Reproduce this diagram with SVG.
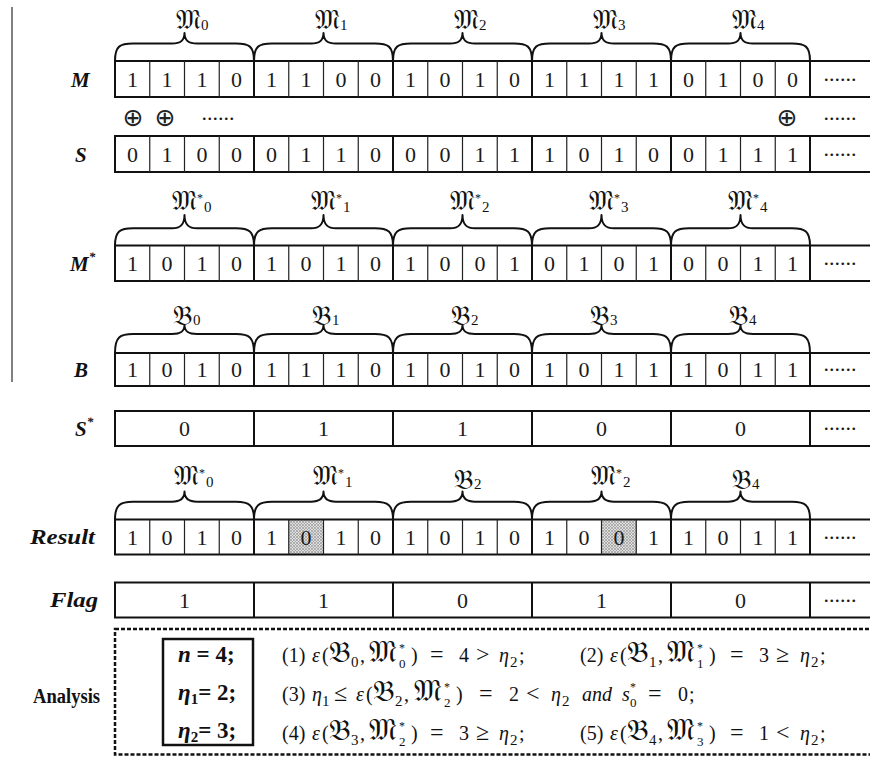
<svg xmlns="http://www.w3.org/2000/svg" width="870" height="759" viewBox="0 0 870 759">
<defs>
<pattern id="hatch" width="3" height="3" patternUnits="userSpaceOnUse">
<rect width="3" height="3" fill="#dedede"/>
<path d="M0,0 L3,3 M3,0 L0,3" stroke="#999" stroke-width="0.7"/>
</pattern>
<style>
.box{fill:none;stroke:#111;stroke-width:2}
.thin{stroke:#222;stroke-width:1.2}
.thick{stroke:#111;stroke-width:2}
.brace{fill:none;stroke:#111;stroke-width:2;stroke-linejoin:round}
.d{font-family:"Liberation Serif",serif;font-size:22px;text-anchor:middle;fill:#1a1a1a}
.dots{font-family:"Liberation Serif",serif;font-size:22px;text-anchor:middle;fill:#1a1a1a}
.lbl{font-family:"Liberation Serif",serif;font-weight:bold;font-style:italic;font-size:21px;fill:#111}
.an{font-family:"Liberation Serif",serif;font-weight:bold;font-size:20px;fill:#111}
.fk{font-family:"DejaVu Serif","DejaVu Sans","Noto Sans",serif;font-size:27px;fill:#111}
.fa{font-family:"DejaVu Serif","DejaVu Sans","Noto Sans",serif;font-size:30px}
.sub{font-family:"Liberation Serif",serif;font-size:15px}
.s2{font-family:"Liberation Serif",serif;font-size:13px}
.sup{font-family:"Liberation Serif",serif;font-size:12px}
.m{font-family:"Liberation Serif",serif;font-size:20px;fill:#111}
.o{font-size:24px}
.i{font-style:italic}
.ib{font-family:"Liberation Serif",serif;font-size:23px;font-weight:bold;fill:#111}
.op{font-family:"DejaVu Sans",sans-serif;font-size:25px;text-anchor:middle;fill:#222}
</style>
</defs>
<line x1="12" y1="7" x2="12" y2="382" stroke="#808080" stroke-width="2"/>

<g id="row-M">
<text class="lbl" x="71" y="87">M</text>
<rect class="box" x="115" y="61" width="757" height="36"/>
<path class="thin" d="M149.75,61V97M184.5,61V97M219.25,61V97M288.75,61V97M323.5,61V97M358.25,61V97M427.75,61V97M462.5,61V97M497.25,61V97M566.75,61V97M601.5,61V97M636.25,61V97M705.75,61V97M740.5,61V97M775.25,61V97"/>
<path class="thick" d="M254,61V97M393,61V97M532,61V97M671,61V97M810,61V97"/>
<text class="d" x="132.4 167.1 201.9 236.6 271.4 306.1 340.9 375.6 410.4 445.1 479.9 514.6 549.4 584.1 618.9 653.6 688.4 723.1 757.9 792.6" y="86.5">11101100101011110100</text>
<text class="dots" x="840" y="81">......</text>
<path class="brace" d="M115,61C115,46 120,43.5 133,43.5L172,43.5C180,43.5 184.5,41 184.5,33C184.5,41 189,43.5 197,43.5L236,43.5C249,43.5 254,46 254,61M254,61C254,46 259,43.5 272,43.5L311,43.5C319,43.5 323.5,41 323.5,33C323.5,41 328,43.5 336,43.5L375,43.5C388,43.5 393,46 393,61M393,61C393,46 398,43.5 411,43.5L450,43.5C458,43.5 462.5,41 462.5,33C462.5,41 467,43.5 475,43.5L514,43.5C527,43.5 532,46 532,61M532,61C532,46 537,43.5 550,43.5L589,43.5C597,43.5 601.5,41 601.5,33C601.5,41 606,43.5 614,43.5L653,43.5C666,43.5 671,46 671,61M671,61C671,46 676,43.5 689,43.5L728,43.5C736,43.5 740.5,41 740.5,33C740.5,41 745,43.5 753,43.5L792,43.5C805,43.5 810,46 810,61"/>
<text class="fk" x="176" y="29">𝔐<tspan class="sub" dy="1">0</tspan></text>
<text class="fk" x="315" y="29">𝔐<tspan class="sub" dy="1">1</tspan></text>
<text class="fk" x="454" y="29">𝔐<tspan class="sub" dy="1">2</tspan></text>
<text class="fk" x="593" y="29">𝔐<tspan class="sub" dy="1">3</tspan></text>
<text class="fk" x="732" y="29">𝔐<tspan class="sub" dy="1">4</tspan></text>
</g>

<g id="xor-ops">
<text class="op" x="133" y="126">⊕</text>
<text class="op" x="165" y="126">⊕</text>
<text class="dots" x="218" y="120">......</text>
<text class="op" x="787" y="126">⊕</text>
<text class="dots" x="840" y="120">......</text>
</g>

<g id="row-S">
<text class="lbl" x="75" y="162">S</text>
<rect class="box" x="115" y="136" width="757" height="36"/>
<path class="thin" d="M149.75,136V172M184.5,136V172M219.25,136V172M288.75,136V172M323.5,136V172M358.25,136V172M427.75,136V172M462.5,136V172M497.25,136V172M566.75,136V172M601.5,136V172M636.25,136V172M705.75,136V172M740.5,136V172M775.25,136V172"/>
<path class="thick" d="M254,136V172M393,136V172M532,136V172M671,136V172M810,136V172"/>
<text class="d" x="132.4 167.1 201.9 236.6 271.4 306.1 340.9 375.6 410.4 445.1 479.9 514.6 549.4 584.1 618.9 653.6 688.4 723.1 757.9 792.6" y="161.5">01000110001110100111</text>
<text class="dots" x="840" y="156">......</text>
</g>

<g id="row-Mstar">
<text class="lbl" x="70" y="271">M<tspan font-size="13" dy="-10">*</tspan></text>
<rect class="box" x="115" y="245.5" width="757" height="35.5"/>
<path class="thin" d="M149.75,245.5V281M184.5,245.5V281M219.25,245.5V281M288.75,245.5V281M323.5,245.5V281M358.25,245.5V281M427.75,245.5V281M462.5,245.5V281M497.25,245.5V281M566.75,245.5V281M601.5,245.5V281M636.25,245.5V281M705.75,245.5V281M740.5,245.5V281M775.25,245.5V281"/>
<path class="thick" d="M254,245.5V281M393,245.5V281M532,245.5V281M671,245.5V281M810,245.5V281"/>
<text class="d" x="132.4 167.1 201.9 236.6 271.4 306.1 340.9 375.6 410.4 445.1 479.9 514.6 549.4 584.1 618.9 653.6 688.4 723.1 757.9 792.6" y="270.5">10101010100101010011</text>
<text class="dots" x="840" y="265">......</text>
<path class="brace" d="M115,245.5C115,231 120,228.3 133,228.3L172,228.3C180,228.3 184.5,225 184.5,215C184.5,225 189,228.3 197,228.3L236,228.3C249,228.3 254,231 254,245.5M254,245.5C254,231 259,228.3 272,228.3L311,228.3C319,228.3 323.5,225 323.5,215C323.5,225 328,228.3 336,228.3L375,228.3C388,228.3 393,231 393,245.5M393,245.5C393,231 398,228.3 411,228.3L450,228.3C458,228.3 462.5,225 462.5,215C462.5,225 467,228.3 475,228.3L514,228.3C527,228.3 532,231 532,245.5M532,245.5C532,231 537,228.3 550,228.3L589,228.3C597,228.3 601.5,225 601.5,215C601.5,225 606,228.3 614,228.3L653,228.3C666,228.3 671,231 671,245.5M671,245.5C671,231 676,228.3 689,228.3L728,228.3C736,228.3 740.5,225 740.5,215C740.5,225 745,228.3 753,228.3L792,228.3C805,228.3 810,231 810,245.5"/>
<text class="fk" x="172" y="210">𝔐<tspan class="sup" dy="-8">*</tspan><tspan class="sub" dx="1" dy="10">0</tspan></text>
<text class="fk" x="311" y="210">𝔐<tspan class="sup" dy="-8">*</tspan><tspan class="sub" dx="1" dy="10">1</tspan></text>
<text class="fk" x="450" y="210">𝔐<tspan class="sup" dy="-8">*</tspan><tspan class="sub" dx="1" dy="10">2</tspan></text>
<text class="fk" x="589" y="210">𝔐<tspan class="sup" dy="-8">*</tspan><tspan class="sub" dx="1" dy="10">3</tspan></text>
<text class="fk" x="728" y="210">𝔐<tspan class="sup" dy="-8">*</tspan><tspan class="sub" dx="1" dy="10">4</tspan></text>
</g>

<g id="row-B">
<text class="lbl" x="74" y="377">B</text>
<rect class="box" x="115" y="353" width="757" height="33"/>
<path class="thin" d="M149.75,353V386M184.5,353V386M219.25,353V386M288.75,353V386M323.5,353V386M358.25,353V386M427.75,353V386M462.5,353V386M497.25,353V386M566.75,353V386M601.5,353V386M636.25,353V386M705.75,353V386M740.5,353V386M775.25,353V386"/>
<path class="thick" d="M254,353V386M393,353V386M532,353V386M671,353V386M810,353V386"/>
<text class="d" x="132.4 167.1 201.9 236.6 271.4 306.1 340.9 375.6 410.4 445.1 479.9 514.6 549.4 584.1 618.9 653.6 688.4 723.1 757.9 792.6" y="377">10101110101010111011</text>
<text class="dots" x="840" y="371">......</text>
<path class="brace" d="M115,353C115,337 120,334 133,334L172,334C180,334 184.5,332 184.5,325C184.5,332 189,334 197,334L236,334C249,334 254,337 254,353M254,353C254,337 259,334 272,334L311,334C319,334 323.5,332 323.5,325C323.5,332 328,334 336,334L375,334C388,334 393,337 393,353M393,353C393,337 398,334 411,334L450,334C458,334 462.5,332 462.5,325C462.5,332 467,334 475,334L514,334C527,334 532,337 532,353M532,353C532,337 537,334 550,334L589,334C597,334 601.5,332 601.5,325C601.5,332 606,334 614,334L653,334C666,334 671,337 671,353M671,353C671,337 676,334 689,334L728,334C736,334 740.5,332 740.5,325C740.5,332 745,334 753,334L792,334C805,334 810,337 810,353"/>
<text class="fk" x="173" y="325">𝔅<tspan class="sub" font-size="13">0</tspan></text>
<text class="fk" x="312" y="325">𝔅<tspan class="sub">1</tspan></text>
<text class="fk" x="451" y="325">𝔅<tspan class="sub" font-size="13">2</tspan></text>
<text class="fk" x="590" y="325">𝔅<tspan class="sub" font-size="13">3</tspan></text>
<text class="fk" x="729" y="325">𝔅<tspan class="sub" font-size="13">4</tspan></text>
</g>

<g id="row-Sstar">
<text class="lbl" x="75" y="436">S<tspan font-size="13" dy="-10">*</tspan></text>
<rect class="box" x="115" y="411" width="757" height="35"/>
<path class="thick" d="M254,411V446M393,411V446M532,411V446M671,411V446M810,411V446"/>
<text class="d" x="184.5 323.5 462.5 601.5 740.5" y="436">01100</text>
<text class="dots" x="840" y="430">......</text>
</g>

<g id="row-Result">
<text class="lbl" x="30" y="544" font-size="23" textLength="65" lengthAdjust="spacingAndGlyphs">Result</text>
<rect x="288.75" y="519.5" width="34.75" height="35" fill="url(#hatch)"/>
<rect x="601.5" y="519.5" width="34.75" height="35" fill="url(#hatch)"/>
<rect class="box" x="115" y="519.5" width="757" height="35"/>
<path class="thin" d="M149.75,519.5V554.5M184.5,519.5V554.5M219.25,519.5V554.5M288.75,519.5V554.5M323.5,519.5V554.5M358.25,519.5V554.5M427.75,519.5V554.5M462.5,519.5V554.5M497.25,519.5V554.5M566.75,519.5V554.5M601.5,519.5V554.5M636.25,519.5V554.5M705.75,519.5V554.5M740.5,519.5V554.5M775.25,519.5V554.5"/>
<path class="thick" d="M254,519.5V554.5M393,519.5V554.5M532,519.5V554.5M671,519.5V554.5M810,519.5V554.5"/>
<text class="d" x="132.4 167.1 201.9 236.6 271.4 306.1 340.9 375.6 410.4 445.1 479.9 514.6 549.4 584.1 618.9 653.6 688.4 723.1 757.9 792.6" y="544.5">10101010101010011011</text>
<text class="dots" x="840" y="539">......</text>
<path class="brace" d="M115,519.5C115,505 120,501.7 133,501.7L172,501.7C180,501.7 184.5,499 184.5,491.5C184.5,499 189,501.7 197,501.7L236,501.7C249,501.7 254,505 254,519.5M254,519.5C254,505 259,501.7 272,501.7L311,501.7C319,501.7 323.5,499 323.5,491.5C323.5,499 328,501.7 336,501.7L375,501.7C388,501.7 393,505 393,519.5M393,519.5C393,505 398,501.7 411,501.7L450,501.7C458,501.7 462.5,499 462.5,491.5C462.5,499 467,501.7 475,501.7L514,501.7C527,501.7 532,505 532,519.5M532,519.5C532,505 537,501.7 550,501.7L589,501.7C597,501.7 601.5,499 601.5,491.5C601.5,499 606,501.7 614,501.7L653,501.7C666,501.7 671,505 671,519.5M671,519.5C671,505 676,501.7 689,501.7L728,501.7C736,501.7 740.5,499 740.5,491.5C740.5,499 745,501.7 753,501.7L792,501.7C805,501.7 810,505 810,519.5"/>
<text class="fk" x="174" y="485">𝔐<tspan class="sup" dy="-8">*</tspan><tspan class="sub" dx="1" dy="10">0</tspan></text>
<text class="fk" x="313" y="485">𝔐<tspan class="sup" dy="-8">*</tspan><tspan class="sub" dx="1" dy="10">1</tspan></text>
<text class="fk" x="454" y="489">𝔅<tspan class="sub">2</tspan></text>
<text class="fk" x="591" y="485">𝔐<tspan class="sup" dy="-8">*</tspan><tspan class="sub" dx="1" dy="10">2</tspan></text>
<text class="fk" x="732" y="489">𝔅<tspan class="sub">4</tspan></text>
</g>

<g id="row-Flag">
<text class="lbl" x="50" y="607" font-size="23" textLength="48" lengthAdjust="spacingAndGlyphs">Flag</text>
<rect class="box" x="115" y="582.5" width="757" height="35"/>
<path class="thick" d="M254,582.5V617.5M393,582.5V617.5M532,582.5V617.5M671,582.5V617.5M810,582.5V617.5"/>
<text class="d" x="184.5 323.5 462.5 601.5 740.5" y="607.5">11010</text>
<text class="dots" x="840" y="602">......</text>
</g>

<g id="analysis">
<text class="an" x="33" y="703" textLength="67" lengthAdjust="spacingAndGlyphs">Analysis</text>
<rect x="115" y="629" width="757" height="125.5" fill="none" stroke="#111" stroke-width="2.5" stroke-dasharray="4 2"/>
<rect x="163" y="639" width="90" height="106" fill="none" stroke="#111" stroke-width="2.5"/>
<text class="ib" x="178" y="662"><tspan font-style="italic">n</tspan> = 4;</text>
<text class="ib" x="178" y="700"><tspan font-style="italic">η</tspan><tspan font-size="15" dy="4">1</tspan><tspan dy="-4">= 2;</tspan></text>
<text class="ib" x="178" y="738"><tspan font-style="italic">η</tspan><tspan font-size="15" dy="4">2</tspan><tspan dy="-4">= 3;</tspan></text>

<text class="m" y="662"><tspan x="282">(1)</tspan><tspan x="312" class="i">ε</tspan><tspan x="322">(</tspan><tspan x="329" class="fa">𝔅</tspan><tspan x="351" y="667" class="sub">0</tspan><tspan x="360" y="662">,</tspan><tspan x="369" class="fa">𝔐</tspan><tspan x="399" y="652" class="sup">*</tspan><tspan x="399" y="668" class="s2">0</tspan><tspan x="411" y="662">)</tspan><tspan x="430" class="o">=</tspan><tspan x="459">4</tspan><tspan x="476" class="o">&gt;</tspan><tspan x="499" class="i">η</tspan><tspan x="510" y="667" class="sub">2</tspan><tspan x="519" y="662">;</tspan></text>

<text class="m" y="662"><tspan x="580">(2)</tspan><tspan x="610" class="i">ε</tspan><tspan x="620">(</tspan><tspan x="627" class="fa">𝔅</tspan><tspan x="649" y="667" class="sub">1</tspan><tspan x="658" y="662">,</tspan><tspan x="667" class="fa">𝔐</tspan><tspan x="697" y="652" class="sup">*</tspan><tspan x="697" y="668" class="s2">1</tspan><tspan x="709" y="662">)</tspan><tspan x="730" class="o">=</tspan><tspan x="759">3</tspan><tspan x="776" class="o">≥</tspan><tspan x="800" class="i">η</tspan><tspan x="811" y="667" class="sub">2</tspan><tspan x="820" y="662">;</tspan></text>

<text class="m" y="701"><tspan x="282">(3)</tspan><tspan x="312" class="i">η</tspan><tspan x="322" y="706" class="sub">1</tspan><tspan x="334" y="701" class="o">≤</tspan><tspan x="356" class="i">ε</tspan><tspan x="366">(</tspan><tspan x="373" class="fa">𝔅</tspan><tspan x="395" y="706" class="sub">2</tspan><tspan x="404" y="701">,</tspan><tspan x="414" class="fa">𝔐</tspan><tspan x="444" y="691" class="sup">*</tspan><tspan x="444" y="707" class="s2">2</tspan><tspan x="456" y="701">)</tspan><tspan x="479" class="o">=</tspan><tspan x="509">2</tspan><tspan x="526" class="o">&lt;</tspan><tspan x="551" class="i">η</tspan><tspan x="562" y="706" class="sub">2</tspan><tspan x="582" y="701" class="i">and</tspan><tspan x="622" class="i">s</tspan><tspan x="630" y="691" class="sup">*</tspan><tspan x="630" y="707" class="s2">0</tspan><tspan x="648" y="701" class="o">=</tspan><tspan x="678">0</tspan><tspan x="689">;</tspan></text>

<text class="m" y="740"><tspan x="282">(4)</tspan><tspan x="312" class="i">ε</tspan><tspan x="322">(</tspan><tspan x="329" class="fa">𝔅</tspan><tspan x="351" y="745" class="sub">3</tspan><tspan x="360" y="740">,</tspan><tspan x="369" class="fa">𝔐</tspan><tspan x="399" y="730" class="sup">*</tspan><tspan x="399" y="746" class="s2">2</tspan><tspan x="411" y="740">)</tspan><tspan x="430" class="o">=</tspan><tspan x="459">3</tspan><tspan x="476" class="o">≥</tspan><tspan x="499" class="i">η</tspan><tspan x="510" y="745" class="sub">2</tspan><tspan x="519" y="740">;</tspan></text>

<text class="m" y="740"><tspan x="580">(5)</tspan><tspan x="610" class="i">ε</tspan><tspan x="620">(</tspan><tspan x="627" class="fa">𝔅</tspan><tspan x="649" y="745" class="sub">4</tspan><tspan x="658" y="740">,</tspan><tspan x="667" class="fa">𝔐</tspan><tspan x="697" y="730" class="sup">*</tspan><tspan x="697" y="746" class="s2">3</tspan><tspan x="709" y="740">)</tspan><tspan x="730" class="o">=</tspan><tspan x="759">1</tspan><tspan x="776" class="o">&lt;</tspan><tspan x="800" class="i">η</tspan><tspan x="811" y="745" class="sub">2</tspan><tspan x="820" y="740">;</tspan></text>
</g>
</svg>
